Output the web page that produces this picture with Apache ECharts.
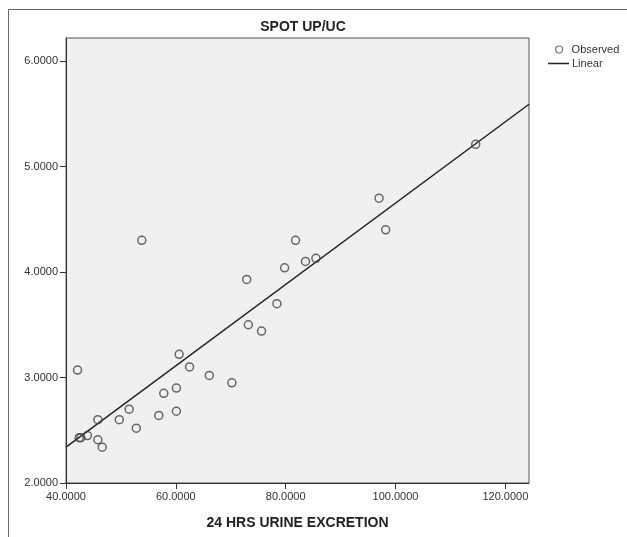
<!DOCTYPE html>
<html>
<head>
<meta charset="utf-8">
<script src="https://cdn.jsdelivr.net/npm/echarts@6/dist/echarts.min.js"></script>
<style>
  html, body { margin: 0; padding: 0; background: #fff; }
  #chart { width: 627px; height: 537px; }
</style>
</head>
<body>
<div id="chart"></div>
<script>
// 24 hrs urine excretion (x) vs spot UP/UC (y)
const obsX = [42.1, 42.4, 42.7, 43.9, 45.8, 45.8, 46.6, 49.7, 51.5, 52.8, 53.8, 56.9, 57.8, 60.1, 60.1, 60.6, 62.5, 66.1, 70.2, 72.9, 73.2, 75.6, 78.4, 79.8, 81.8, 83.6, 85.5, 97.0, 98.2, 114.6]
const obsY = [3.07, 2.43, 2.43, 2.45, 2.60, 2.41, 2.34, 2.60, 2.70, 2.52, 4.30, 2.64, 2.85, 2.90, 2.68, 3.22, 3.10, 3.02, 2.95, 3.93, 3.50, 3.44, 3.70, 4.04, 4.30, 4.10, 4.13, 4.70, 4.40, 5.21]

// linear fit line, read at the plot edges
const fitX = [40, 124.3]
const fitY = [2.34, 5.59]

const xTicks = [40, 60, 80, 100, 120]
const yTicks = [2, 3, 4, 5, 6]

const font = "'Liberation Sans', Arial, sans-serif"

const chart = echarts.init(document.getElementById("chart"))

const option = {
  backgroundColor: "#fff",
  animation: false,
  title: {
    text: "SPOT UP/UC",
    left: 298,
    top: 15,
    textAlign: "center",
    textStyle: { fontFamily: font, fontSize: 14, fontWeight: "bold", color: "#222" }
  },
  legend: [
    {
      left: 550, top: 39,
      itemWidth: 7, itemHeight: 7,
      data: [{ name: "Observed", icon: "circle" }],
      itemStyle: { color: "rgba(0,0,0,0)", borderColor: "#555", borderWidth: 1.2 },
      textStyle: { fontFamily: font, fontSize: 11, color: "#333", padding: [0, 0, 0, 4] }
    },
    {
      left: 543, top: 53,
      itemWidth: 21, itemHeight: 1.5,
      data: [{ name: "Linear", icon: "rect" }],
      itemStyle: { color: "#222", borderWidth: 0 },
      textStyle: { fontFamily: font, fontSize: 11, color: "#333", padding: [0, 0, 0, -2] }
    }
  ],
  grid: {
    left: 66, right: 98, top: 38, bottom: 54,
    show: true,
    backgroundColor: "#f0f0f0",
    borderColor: "#555",
    borderWidth: 1
  },
  xAxis: {
    type: "value",
    min: 40,
    max: 124.3,
    name: "24 HRS URINE EXCRETION",
    nameLocation: "middle",
    nameGap: 33,
    nameTextStyle: { fontFamily: font, fontSize: 14, fontWeight: "bold", color: "#222" },
    splitLine: { show: false },
    axisLine: { lineStyle: { color: "#333" } },
    axisTick: { length: 6, customValues: xTicks, lineStyle: { color: "#333" } },
    axisLabel: {
      customValues: xTicks,
      margin: 8,
      fontFamily: font, fontSize: 11, color: "#333",
      formatter: (v) => v.toFixed(4)
    }
  },
  yAxis: {
    type: "value",
    min: 2,
    max: 6.218,
    splitLine: { show: false },
    axisLine: { lineStyle: { color: "#333" } },
    axisTick: { length: 6, customValues: yTicks, lineStyle: { color: "#333" } },
    axisLabel: {
      customValues: yTicks,
      margin: 8,
      fontFamily: font, fontSize: 11, color: "#333",
      formatter: (v) => v.toFixed(4)
    }
  },
  series: [
    {
      name: "Observed",
      type: "scatter",
      symbol: "circle",
      symbolSize: 8,
      itemStyle: { color: "rgba(0,0,0,0)", borderColor: "#444", borderWidth: 1.5 },
      data: obsX.map((x, i) => [x, obsY[i]]),
      z: 3
    },
    {
      name: "Linear",
      type: "line",
      symbol: "none",
      lineStyle: { color: "#222", width: 1.5 },
      itemStyle: { color: "#222" },
      data: fitX.map((x, i) => [x, fitY[i]]),
      z: 2
    }
  ],
  graphic: [
    {
      type: "rect",
      shape: { x: 8.5, y: 9.5, width: 700, height: 600 },
      style: { fill: null, stroke: "#666", lineWidth: 1 },
      silent: true
    }
  ]
}

chart.setOption(option)
</script>
</body>
</html>
